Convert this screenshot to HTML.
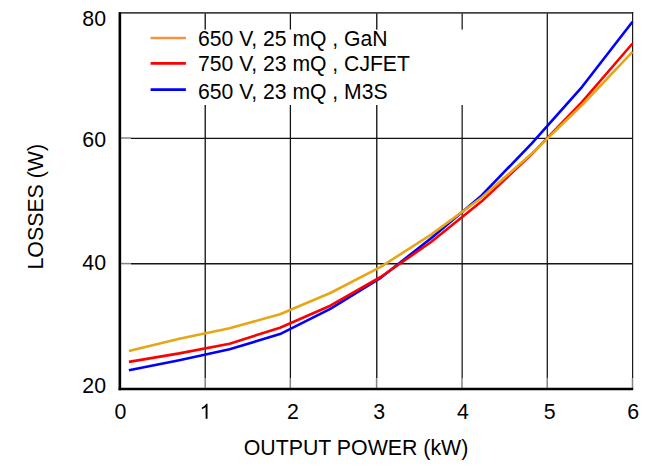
<!DOCTYPE html>
<html><head><meta charset="utf-8"><style>
html,body{margin:0;padding:0;background:#fff;}
body{width:662px;height:466px;overflow:hidden;}
svg{display:block;}
text{font-family:"Liberation Sans",sans-serif;font-size:21.33px;fill:#000;}
text.lg{font-size:21.15px;}
</style></head><body>
<svg width="662" height="466" viewBox="0 0 662 466">
<rect x="0" y="0" width="662" height="466" fill="#fff"/>
<g fill="none">
<line x1="205.25" y1="13" x2="205.25" y2="378" stroke-width="1.5" stroke="#2e2e2e"/>
<line x1="290.4" y1="13" x2="290.4" y2="378" stroke-width="1.25" stroke="#111"/>
<line x1="376.75" y1="13" x2="376.75" y2="378" stroke-width="1.5" stroke="#2a2a2a"/>
<line x1="462.2" y1="13" x2="462.2" y2="378" stroke-width="1.55" stroke="#444"/>
<line x1="547.3" y1="13" x2="547.3" y2="378" stroke-width="1.3" stroke="#1a1a1a"/>
<line x1="131" y1="138.4" x2="632.6" y2="138.4" stroke-width="1.2" stroke="#111"/>
<line x1="131" y1="263.7" x2="632.6" y2="263.7" stroke-width="1.35" stroke="#151515"/>
</g>
<g fill="none" stroke="#858585" stroke-width="1.5">
<line x1="205.2" y1="378" x2="205.2" y2="388"/>
<line x1="290.3" y1="378" x2="290.3" y2="388"/>
<line x1="376.6" y1="378" x2="376.6" y2="388"/>
<line x1="462" y1="378" x2="462" y2="388"/>
<line x1="547.2" y1="378" x2="547.2" y2="388"/>
<line x1="632.5" y1="378" x2="632.5" y2="388"/>
<line x1="121" y1="138.0" x2="131" y2="138.0"/>
<line x1="121" y1="263.6" x2="131" y2="263.6"/>
</g>
<line x1="119" y1="12.85" x2="633.2" y2="12.85" stroke="#444" stroke-width="1.7"/>
<line x1="632.6" y1="12" x2="632.6" y2="378" stroke="#1a1a1a" stroke-width="1.2"/>
<rect x="124" y="29.6" width="380" height="75.4" fill="#fff"/>
<line x1="119.85" y1="12.2" x2="119.85" y2="390.3" stroke="#000" stroke-width="2.6"/>
<line x1="118.6" y1="389.05" x2="633.2" y2="389.05" stroke="#000" stroke-width="2.5"/>
<g fill="none" stroke-width="2.6" stroke-linejoin="round">
<polyline stroke="#0000FF" points="128.9,370.2 179.3,360.3 229.6,349.3 280.0,334.1 330.3,308.8 380.7,277.8 431.1,238.3 481.4,195.7 531.8,143.3 582.1,86.8 632.5,21.8"/>
<polyline stroke="#FF0000" points="128.9,361.9 179.3,353.4 229.6,343.7 280.0,327.7 330.3,305.7 380.7,277.0 431.1,242.0 481.4,201.6 531.8,154.1 582.1,101.9 632.5,43.5"/>
<polyline stroke="#E8A617" points="128.9,350.9 179.3,338.8 229.6,328.3 280.0,314.3 330.3,293.0 380.7,266.9 431.1,234.6 481.4,197.7 531.8,153.6 582.1,105.0 632.5,51.8"/>
</g>
<line x1="150.6" y1="38" x2="185.9" y2="38" stroke="#F29441" stroke-width="2.3"/>
<line x1="150.6" y1="63.3" x2="185.9" y2="63.3" stroke="#FF0000" stroke-width="2.7"/>
<line x1="150.6" y1="89.7" x2="185.9" y2="89.7" stroke="#0000FF" stroke-width="2.7"/>
<text class="lg" x="198" y="45.6">650 V, 25 mQ , GaN</text>
<text class="lg" x="198" y="70.6">750 V, 23 mQ , CJFET</text>
<text class="lg" x="198" y="98.5">650 V, 23 mQ , M3S</text>
<g text-anchor="end">
<text x="106" y="25.8">80</text>
<text x="106" y="146.7">60</text>
<text x="106" y="269.9">40</text>
<text x="106" y="393">20</text>
</g>
<g text-anchor="middle">
<text x="120.5" y="418.7">0</text>

<text x="293" y="418.7">2</text>
<text x="379.3" y="418.7">3</text>
<text x="463" y="418.7">4</text>
<text x="549.7" y="418.7">5</text>
<text x="633.3" y="418.7">6</text>
</g>
<path transform="translate(199.5,418.7) scale(0.0105,-0.0101)" d="M763 0H583V1147Q518 1085 412 1023Q306 961 222 930V1104Q373 1175 486 1276Q599 1377 646 1472H763Z" fill="#000"/>
<text x="356" y="454.6" text-anchor="middle">OUTPUT POWER (kW)</text>
<text transform="translate(43,206.7) rotate(-90)" text-anchor="middle">LOSSES (W)</text>
</svg>
</body></html>
